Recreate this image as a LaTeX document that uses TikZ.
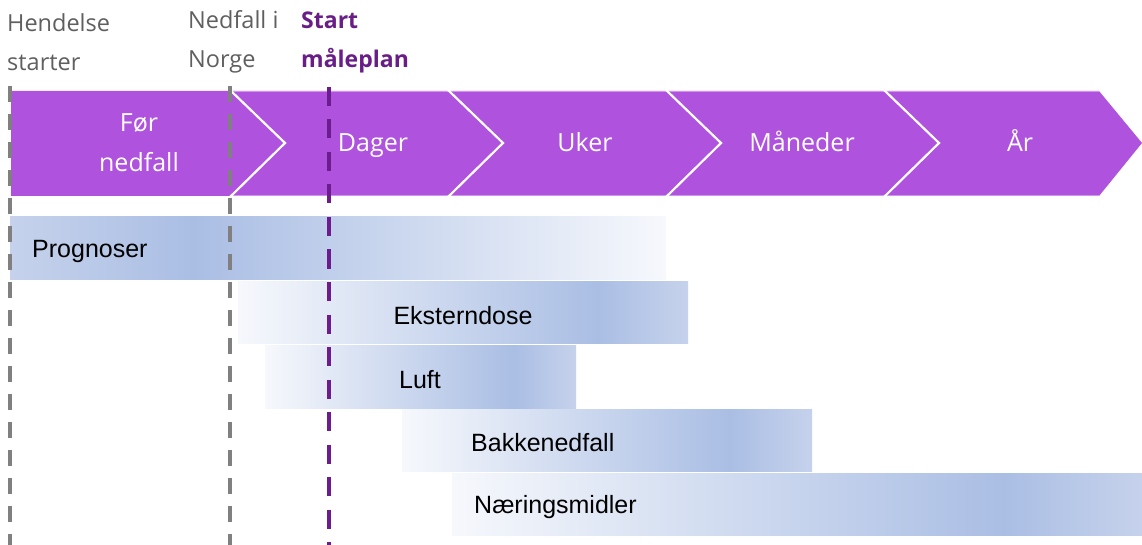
\documentclass[tikz,border=0pt]{standalone}
\usepackage{fontspec}
\setmainfont{Open Sans}
\newfontfamily\barfont{Liberation Sans}
\definecolor{band}{RGB}{175,82,222}
\definecolor{bandedge}{RGB}{205,150,235}
\definecolor{gline}{RGB}{128,128,128}
\definecolor{pline}{RGB}{108,28,140}
\definecolor{ptext}{RGB}{105,30,135}
\definecolor{gtext}{RGB}{95,95,95}
\definecolor{bpeak}{RGB}{170,190,228}
\definecolor{bedge}{RGB}{198,210,236}
\definecolor{bwhite}{RGB}{246,248,252}
\pgfdeclarehorizontalshading{progshade}{100bp}{color(0bp)=(bedge); color(25bp)=(bedge); color(39bp)=(bpeak); color(75bp)=(bwhite); color(100bp)=(bwhite)}
\pgfdeclarehorizontalshading{barshade}{100bp}{color(0bp)=(bwhite); color(25bp)=(bwhite); color(65bp)=(bpeak); color(75bp)=(bedge); color(100bp)=(bedge)}
\tikzset{
  toplabel/.style={anchor=west, align=left, font=\fontsize{23.5}{39}\selectfont, text=gtext, inner sep=0pt},
  bandlabel/.style={align=center, font=\fontsize{25}{40}\selectfont, text=white, inner sep=0pt},
  bandword/.style={anchor=base, font=\fontsize{25}{40}\selectfont, text=white, inner sep=0pt},
  barlabel/.style={font=\barfont\fontsize{25}{28}\selectfont, text=black, inner sep=0pt},
  sep/.style={draw=white, line width=2.2pt},
  gdash/.style={draw=gline, line width=3.8pt, dash pattern=on 16pt off 12pt},
  pdash/.style={draw=pline, line width=4pt, dash pattern=on 19pt off 13.5pt},
}
\begin{document}
\begin{tikzpicture}[x=1pt,y=-1pt]
\useasboundingbox (0,0) rectangle (1142,545);
\clip (0,0) rectangle (1142,545);
% band
\fill[band] (11,91) -- (1099,91) -- (1142,143) -- (1099,196) -- (11,196) -- cycle;
\draw[bandedge, line width=1pt] (232,91.5) -- (1099,91.5);
\draw[bandedge, line width=1pt] (232,195.5) -- (1099,195.5);
\foreach \x in {230,448,666,884}{
  \draw[sep] (\x,90) -- ({\x+55},143) -- (\x,197);
}
% band labels
\node[bandlabel] (fn) at (139,143) {Før\\nedfall};
\node[bandword] (dg) at (373,152) {Dager};
\node[bandword] (uk) at (585,152) {Uker};
\node[bandword] (mn) at (802,152) {Måneder};
\node[bandword] (ar) at (1020,152) {År};
% top labels
\node[toplabel] (hs) at (7,42) {Hendelse\\starter};
\node[toplabel] (nn) at (188,42) {Nedfall i\\Norge};
\node[toplabel, text=ptext, font=\bfseries\fontsize{23}{39}\selectfont] (sm) at (301,42) {Start\\måleplan};
% bars
\shade[shading=progshade] (10,217) rectangle (666,279);
\shade[shading=barshade] (238,281) rectangle (688,343);
\shade[shading=barshade] (265,345) rectangle (576,408);
\shade[shading=barshade] (402,409) rectangle (812,471);
\shade[shading=barshade] (452,473) rectangle (1142,535);
\node[barlabel, anchor=west] (pr) at (32,251) {Prognoser};
\node[barlabel] (ek) at (463,316) {Eksterndose};
\node[barlabel] (lu) at (420,380) {Luft};
\node[barlabel, anchor=west] (bk) at (471,443) {Bakkenedfall};
\node[barlabel, anchor=west] (nm) at (474,507) {Næringsmidler};
% dashed markers
\coordinate (g1t) at (10,86); \coordinate (g1b) at (10,550);
\coordinate (g2t) at (230,86); \coordinate (g2b) at (230,550);
\coordinate (p1t) at (329,87); \coordinate (p1b) at (329,550);
\draw[gdash] (g1t) -- (g1b);
\draw[gdash] (g2t) -- (g2b);
\draw[pdash] (p1t) -- (p1b);
\end{tikzpicture}
\end{document}
